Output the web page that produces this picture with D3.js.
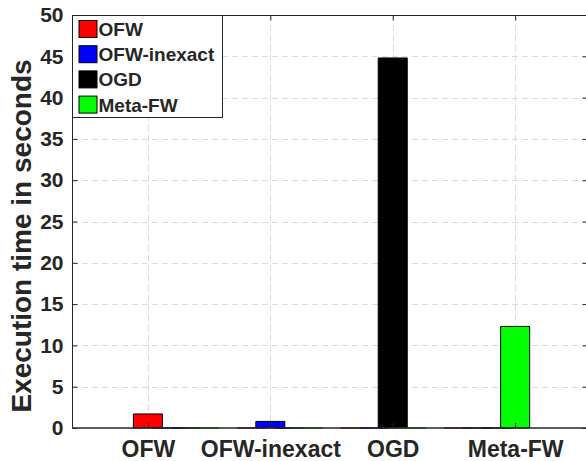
<!DOCTYPE html>
<html>
<head>
<meta charset="utf-8">
<script src="https://cdn.jsdelivr.net/npm/d3@7"></script>
<style>
  html, body { margin: 0; padding: 0; background: #fff; }
  svg { display: block; }
  text { font-family: "Liberation Sans", Arial, Helvetica, sans-serif; font-weight: bold; fill: #262626; }
</style>
</head>
<body>
<svg id="chart" width="586" height="461"></svg>
<script>
// Categories on the x axis and the four timing series (seconds)
const categories = ["OFW", "OFW-inexact", "OGD", "Meta-FW"];
const seriesNames = ["OFW", "OFW-inexact", "OGD", "Meta-FW"];
const seriesColors = ["#ff0000", "#0000ff", "#000000", "#00ff00"];
const ofwTimes        = [1.7, 0, 0, 0];
const ofwInexactTimes = [0, 0.8, 0, 0];
const ogdTimes        = [0, 0, 44.8, 0];
const metaFwTimes     = [0, 0, 0, 12.3];
const yTickValues = [0, 5, 10, 15, 20, 25, 30, 35, 40, 45, 50];
const yLabel = "Execution time in seconds";

const seriesValues = [ofwTimes, ofwInexactTimes, ogdTimes, metaFwTimes];

// Plot box (right edge sits just past the canvas)
const plotLeft = 72, plotRight = 588, plotTop = 15, plotBottom = 428;
const svg = d3.select("#chart");

const x = d3.scaleLinear().domain([-0.62, 3.595]).range([plotLeft, plotRight]);
const y = d3.scaleLinear().domain([0, 50]).range([plotBottom, plotTop]);

// grouped-bar geometry in category units
const seriesStep = 0.154;
const barWidth = 0.237;

// grid
const grid = svg.append("g").attr("stroke", "#dcdcdc").attr("stroke-width", 1)
  .attr("stroke-dasharray", "6,4");
grid.selectAll("line.h").data(yTickValues.filter(v => v > 0 && v < 50)).join("line")
  .attr("x1", plotLeft).attr("x2", plotRight)
  .attr("y1", d => Math.round(y(d)) + 0.5).attr("y2", d => Math.round(y(d)) + 0.5);
grid.selectAll("line.v").data(categories.map((c, i) => i)).join("line")
  .attr("x1", d => Math.round(x(d)) + 0.5).attr("x2", d => Math.round(x(d)) + 0.5)
  .attr("y1", plotTop).attr("y2", plotBottom);

// bars: series drawn in order, each category's bar offset relative to its tick
const bars = svg.append("g");
seriesValues.forEach((vals, k) => {
  bars.selectAll(null).data(vals.map((v, g) => ({ v, g }))).join("path")
    .attr("d", d => {
      const c = d.g + (k - d.g) * seriesStep;
      const x0 = x(c - barWidth / 2), x1 = x(c + barWidth / 2);
      const y0 = y(0), y1 = y(d.v);
      return `M${x0},${y0}V${y1}H${x1}V${y0}Z`;
    })
    .attr("fill", seriesColors[k])
    .attr("stroke", d => d.v === 0 ? d3.color(seriesColors[k]).darker(1.2) : "#000")
    .attr("stroke-width", d => d.v === 0 ? 1.6 : 1);
});

// axes box and ticks
const axis = svg.append("g").attr("stroke", "#262626").attr("fill", "none");
axis.append("line").attr("x1", plotLeft).attr("x2", plotRight).attr("y1", plotBottom).attr("y2", plotBottom).attr("stroke-width", 1.6);
axis.append("line").attr("x1", plotLeft).attr("x2", plotRight).attr("y1", plotTop + 0.5).attr("y2", plotTop + 0.5);
axis.append("line").attr("x1", plotLeft + 0.5).attr("x2", plotLeft + 0.5).attr("y1", plotTop).attr("y2", plotBottom);
axis.append("line").attr("x1", plotRight - 0.5).attr("x2", plotRight - 0.5).attr("y1", plotTop).attr("y2", plotBottom);

const yAxisL = d3.axisLeft(y).tickValues(yTickValues).tickSizeInner(-5).tickSizeOuter(0).tickPadding(9);
const gy = svg.append("g").attr("transform", `translate(${plotLeft + 0.5},0)`).call(yAxisL);
gy.select(".domain").remove();
gy.selectAll(".tick line").attr("stroke", "#262626");
gy.selectAll(".tick text").attr("font-size", 21).attr("fill", "#262626")
  .style("font-family", '"Liberation Sans", Arial, sans-serif').style("font-weight", "bold");

const yAxisR = d3.axisRight(y).tickValues(yTickValues).tickSizeInner(-5).tickSizeOuter(0).tickFormat("");
const gyr = svg.append("g").attr("transform", `translate(${plotRight - 0.5},0)`).call(yAxisR);
gyr.select(".domain").remove();
gyr.selectAll(".tick line").attr("stroke", "#262626");

const xAxisB = d3.axisBottom(x).tickValues(categories.map((c, i) => i))
  .tickFormat(i => categories[i]).tickSizeInner(-5).tickSizeOuter(0).tickPadding(13);
const gx = svg.append("g").attr("transform", `translate(0,${plotBottom})`).call(xAxisB);
gx.select(".domain").remove();
gx.selectAll(".tick line").attr("stroke", "#262626");
gx.selectAll(".tick text").attr("font-size", 23).attr("fill", "#262626")
  .style("font-family", '"Liberation Sans", Arial, sans-serif').style("font-weight", "bold");

const xAxisT = d3.axisTop(x).tickValues(categories.map((c, i) => i))
  .tickFormat("").tickSizeInner(-5).tickSizeOuter(0);
const gxt = svg.append("g").attr("transform", `translate(0,${plotTop + 0.5})`).call(xAxisT);
gxt.select(".domain").remove();
gxt.selectAll(".tick line").attr("stroke", "#262626");

// y axis title
svg.append("text")
  .attr("transform", `translate(31,236) rotate(-90)`)
  .attr("text-anchor", "middle")
  .attr("font-size", 28)
  .text(yLabel);

// legend
const lg = svg.append("g").attr("transform", `translate(${plotLeft + 0.5},${plotTop + 0.5})`);
lg.append("rect").attr("width", 150).attr("height", 102)
  .attr("fill", "#fff").attr("stroke", "#262626").attr("stroke-width", 1);
seriesNames.forEach((name, i) => {
  const cy = 13.5 + i * 25.2;
  lg.append("rect").attr("x", 6.5).attr("y", cy - 8.5).attr("width", 18).attr("height", 17)
    .attr("fill", seriesColors[i]).attr("stroke", "#000").attr("stroke-width", 1);
  lg.append("text").attr("x", 26).attr("y", cy + 7).attr("font-size", 19).text(name);
});
</script>
</body>
</html>
